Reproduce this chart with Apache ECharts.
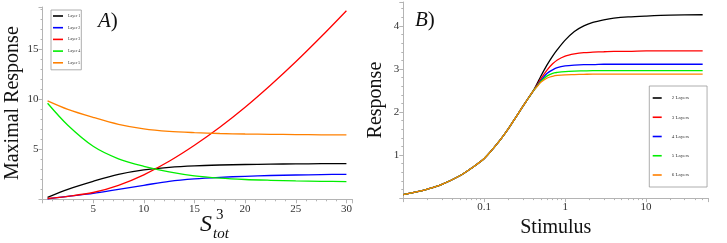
<!DOCTYPE html>
<html><head><meta charset="utf-8">
<script src="https://cdn.jsdelivr.net/npm/echarts@6/dist/echarts.min.js"></script>
<style>html,body{margin:0;padding:0;background:#fff}#c{width:727px;height:243px}</style>
</head><body><div id="c"></div>
<script>
// Panel A data
const sTot = [0.5, 2.5, 5, 7.5, 10, 12.5, 15, 17.5, 20, 22.5, 25, 27.5, 30];
const layer1 = [0.2, 1.0, 1.8, 2.5, 2.95, 3.2, 3.35, 3.43, 3.48, 3.52, 3.54, 3.56, 3.57];
const layer2 = [0.05, 0.3, 0.6, 1.0, 1.4, 1.8, 2.05, 2.2, 2.3, 2.38, 2.43, 2.47, 2.5];
const layer3 = [0.08, 0.3, 0.68, 1.4, 2.45, 3.8, 5.4, 7.2, 9.2, 11.4, 13.75, 16.25, 18.86];
const layer4 = [9.6, 7.4, 5.3, 4.05, 3.3, 2.75, 2.35, 2.12, 1.98, 1.9, 1.84, 1.8, 1.77];
const layer5 = [9.85, 9.0, 8.2, 7.5, 7.05, 6.8, 6.67, 6.58, 6.53, 6.5, 6.47, 6.45, 6.44];
const namesA = ['Layer 1', 'Layer 2', 'Layer 3', 'Layer 4', 'Layer 5'];
const xTicksA = [5, 10, 15, 20, 25, 30];
const yTicksA = [5, 10, 15];

// Panel B data
const stimulus = [0.01, 0.015, 0.02, 0.03, 0.05, 0.07, 0.1, 0.15, 0.2, 0.25, 0.3, 0.35, 0.4,
  0.45, 0.5, 0.6, 0.7, 0.8, 1, 1.3, 1.7, 2.2, 3, 4, 6, 10, 20, 50];
const common = [0.08, 0.15, 0.21, 0.32, 0.52, 0.70, 0.92, 1.30, 1.62, 1.90, 2.13, 2.32, 2.48];
const layers2 = common.concat([2.66, 2.83, 3.1, 3.3, 3.45, 3.67, 3.87, 4.0, 4.08, 4.14, 4.18, 4.21, 4.23, 4.25, 4.26]);
const layers3 = common.concat([2.63, 2.77, 2.98, 3.12, 3.21, 3.3, 3.35, 3.38, 3.39, 3.4, 3.41, 3.41, 3.42, 3.42, 3.42]);
const layers4 = common.concat([2.61, 2.73, 2.9, 2.98, 3.03, 3.07, 3.09, 3.1, 3.1, 3.11, 3.11, 3.11, 3.11, 3.11, 3.11]);
const layers5 = common.concat([2.60, 2.71, 2.84, 2.9, 2.92, 2.94, 2.95, 2.955, 2.96, 2.96, 2.96, 2.96, 2.96, 2.96, 2.96]);
const layers6 = common.concat([2.59, 2.69, 2.79, 2.83, 2.85, 2.865, 2.87, 2.875, 2.88, 2.88, 2.88, 2.88, 2.88, 2.88, 2.88]);
const namesB = ['2 Layers', '3 Layers', '4 Layers', '5 Layers', '6 Layers'];
const xTicksB = ['0.1', '1', '10'];
const yTicksB = [1, 2, 3, 4];

const serif = "'Liberation Serif','DejaVu Serif',serif";
const axisGray = '#b4b4b4';
const zip = (xs, ys) => xs.map((x, i) => [x, ys[i]]);

const colorsA = ['#000000', '#0000ff', '#ff0000', '#00ee00', '#ff8000'];
const colorsB = ['#000000', '#ff0000', '#0000ff', '#00ee00', '#ff8000'];
const dataA = [layer1, layer2, layer3, layer4, layer5];
const dataB = [layers2, layers3, layers4, layers5, layers6];

function axisCommon() {
  return {
    axisLine: { onZero: false, lineStyle: { color: axisGray, width: 1 } },
    axisTick: { show: true, length: 4, lineStyle: { color: axisGray } },
    minorTick: { show: true, splitNumber: 5, length: 2, lineStyle: { color: axisGray } },
    splitLine: { show: false },
    axisLabel: { color: '#333', fontFamily: serif, fontSize: 11, margin: 4, showMinLabel: false, showMaxLabel: false },
    nameTextStyle: { fontFamily: serif, fontSize: 20, color: '#111' }
  };
}

const chart = echarts.init(document.getElementById('c'), null, { renderer: 'canvas' });

const series = [];
dataA.forEach((d, i) => series.push({
  name: namesA[i], type: 'line', xAxisIndex: 0, yAxisIndex: 0, data: zip(sTot, d),
  smooth: 0.3, showSymbol: false, symbol: 'none', lineStyle: { width: 1.3, color: colorsA[i] },
  itemStyle: { color: colorsA[i] }, z: 3 + i
}));
dataB.forEach((d, i) => series.push({
  name: namesB[i], type: 'line', xAxisIndex: 1, yAxisIndex: 1, data: zip(stimulus, d),
  smooth: 0.3, showSymbol: false, symbol: 'none', lineStyle: { width: 1.3, color: colorsB[i] },
  itemStyle: { color: colorsB[i] }, z: 3 + i
}));

const option = {
  animation: false,
  backgroundColor: '#fff',
  grid: [
    { left: 42.5, top: 7, width: 310, height: 192.3 },
    { left: 403.3, top: 2, width: 305, height: 197.3 }
  ],
  xAxis: [
    Object.assign(axisCommon(), {
      type: 'value', gridIndex: 0, min: 0, max: 30.6, interval: 5,
      axisLabel: Object.assign(axisCommon().axisLabel, {
        formatter: v => xTicksA.includes(v) ? String(v) : ''
      })
    }),
    Object.assign(axisCommon(), {
      type: 'log', gridIndex: 1, min: 0.01, max: 58.7, logBase: 10,
      minorTick: { show: true, splitNumber: 9, length: 2, lineStyle: { color: axisGray } },
      name: 'Stimulus', nameLocation: 'middle', nameGap: 17,
      axisLabel: Object.assign(axisCommon().axisLabel, {
        formatter: v => { const s = String(+v.toPrecision(3)); return xTicksB.includes(s) ? s : ''; }
      })
    })
  ],
  yAxis: [
    Object.assign(axisCommon(), {
      type: 'value', gridIndex: 0, min: 0, max: 19.23, interval: 5,
      name: 'Maximal Response', nameLocation: 'middle', nameGap: 20,
      axisLabel: Object.assign(axisCommon().axisLabel, {
        formatter: v => yTicksA.includes(v) ? String(v) : ''
      })
    }),
    Object.assign(axisCommon(), {
      type: 'value', gridIndex: 1, min: 0, max: 4.556, interval: 1,
      name: 'Response', nameLocation: 'middle', nameGap: 18,
      axisLabel: Object.assign(axisCommon().axisLabel, {
        formatter: v => yTicksB.includes(v) ? String(v) : ''
      })
    })
  ],
  legend: [
    {
      data: namesA, orient: 'vertical', left: 51, top: 10,
      icon: 'rect', itemWidth: 10, itemHeight: 1.6, itemGap: 7.7,
      padding: [4, 1, 5, 2], borderColor: '#999', borderWidth: 0.8,
      textStyle: { fontSize: 4, color: '#333', fontFamily: serif }
    },
    {
      data: namesB, orient: 'vertical', left: 649.3, top: 86,
      icon: 'rect', itemWidth: 9, itemHeight: 1.6, itemGap: 14.25,
      padding: [9.5, 18, 9.5, 3.4], borderColor: '#999', borderWidth: 0.8,
      textStyle: { fontSize: 5, color: '#333', fontFamily: serif, padding: [0, 0, 0, 5] }
    }
  ],
  graphic: [
    { type: 'text', left: 98, top: 11, style: {
      text: '{i|A}{n|)}', rich: {
        i: { fontFamily: serif, fontStyle: 'italic', fontSize: 21, fill: '#111' },
        n: { fontFamily: serif, fontSize: 21, fill: '#111' } } } },
    { type: 'text', left: 415, top: 10, style: {
      text: '{i|B}{n|)}', rich: {
        i: { fontFamily: serif, fontStyle: 'italic', fontSize: 21, fill: '#111' },
        n: { fontFamily: serif, fontSize: 21, fill: '#111' } } } },
    { type: 'text', left: 200, top: 213, style: { text: 'S', fontFamily: serif, fontStyle: 'italic', fontSize: 24, fill: '#111' } },
    { type: 'text', left: 216, top: 208, style: { text: '3', fontFamily: serif, fontSize: 15, fill: '#111' } },
    { type: 'text', left: 213, top: 227, style: { text: 'tot', fontFamily: serif, fontStyle: 'italic', fontSize: 15, fill: '#111' } }
  ],
  series: series
};
chart.setOption(option);
</script></body></html>
